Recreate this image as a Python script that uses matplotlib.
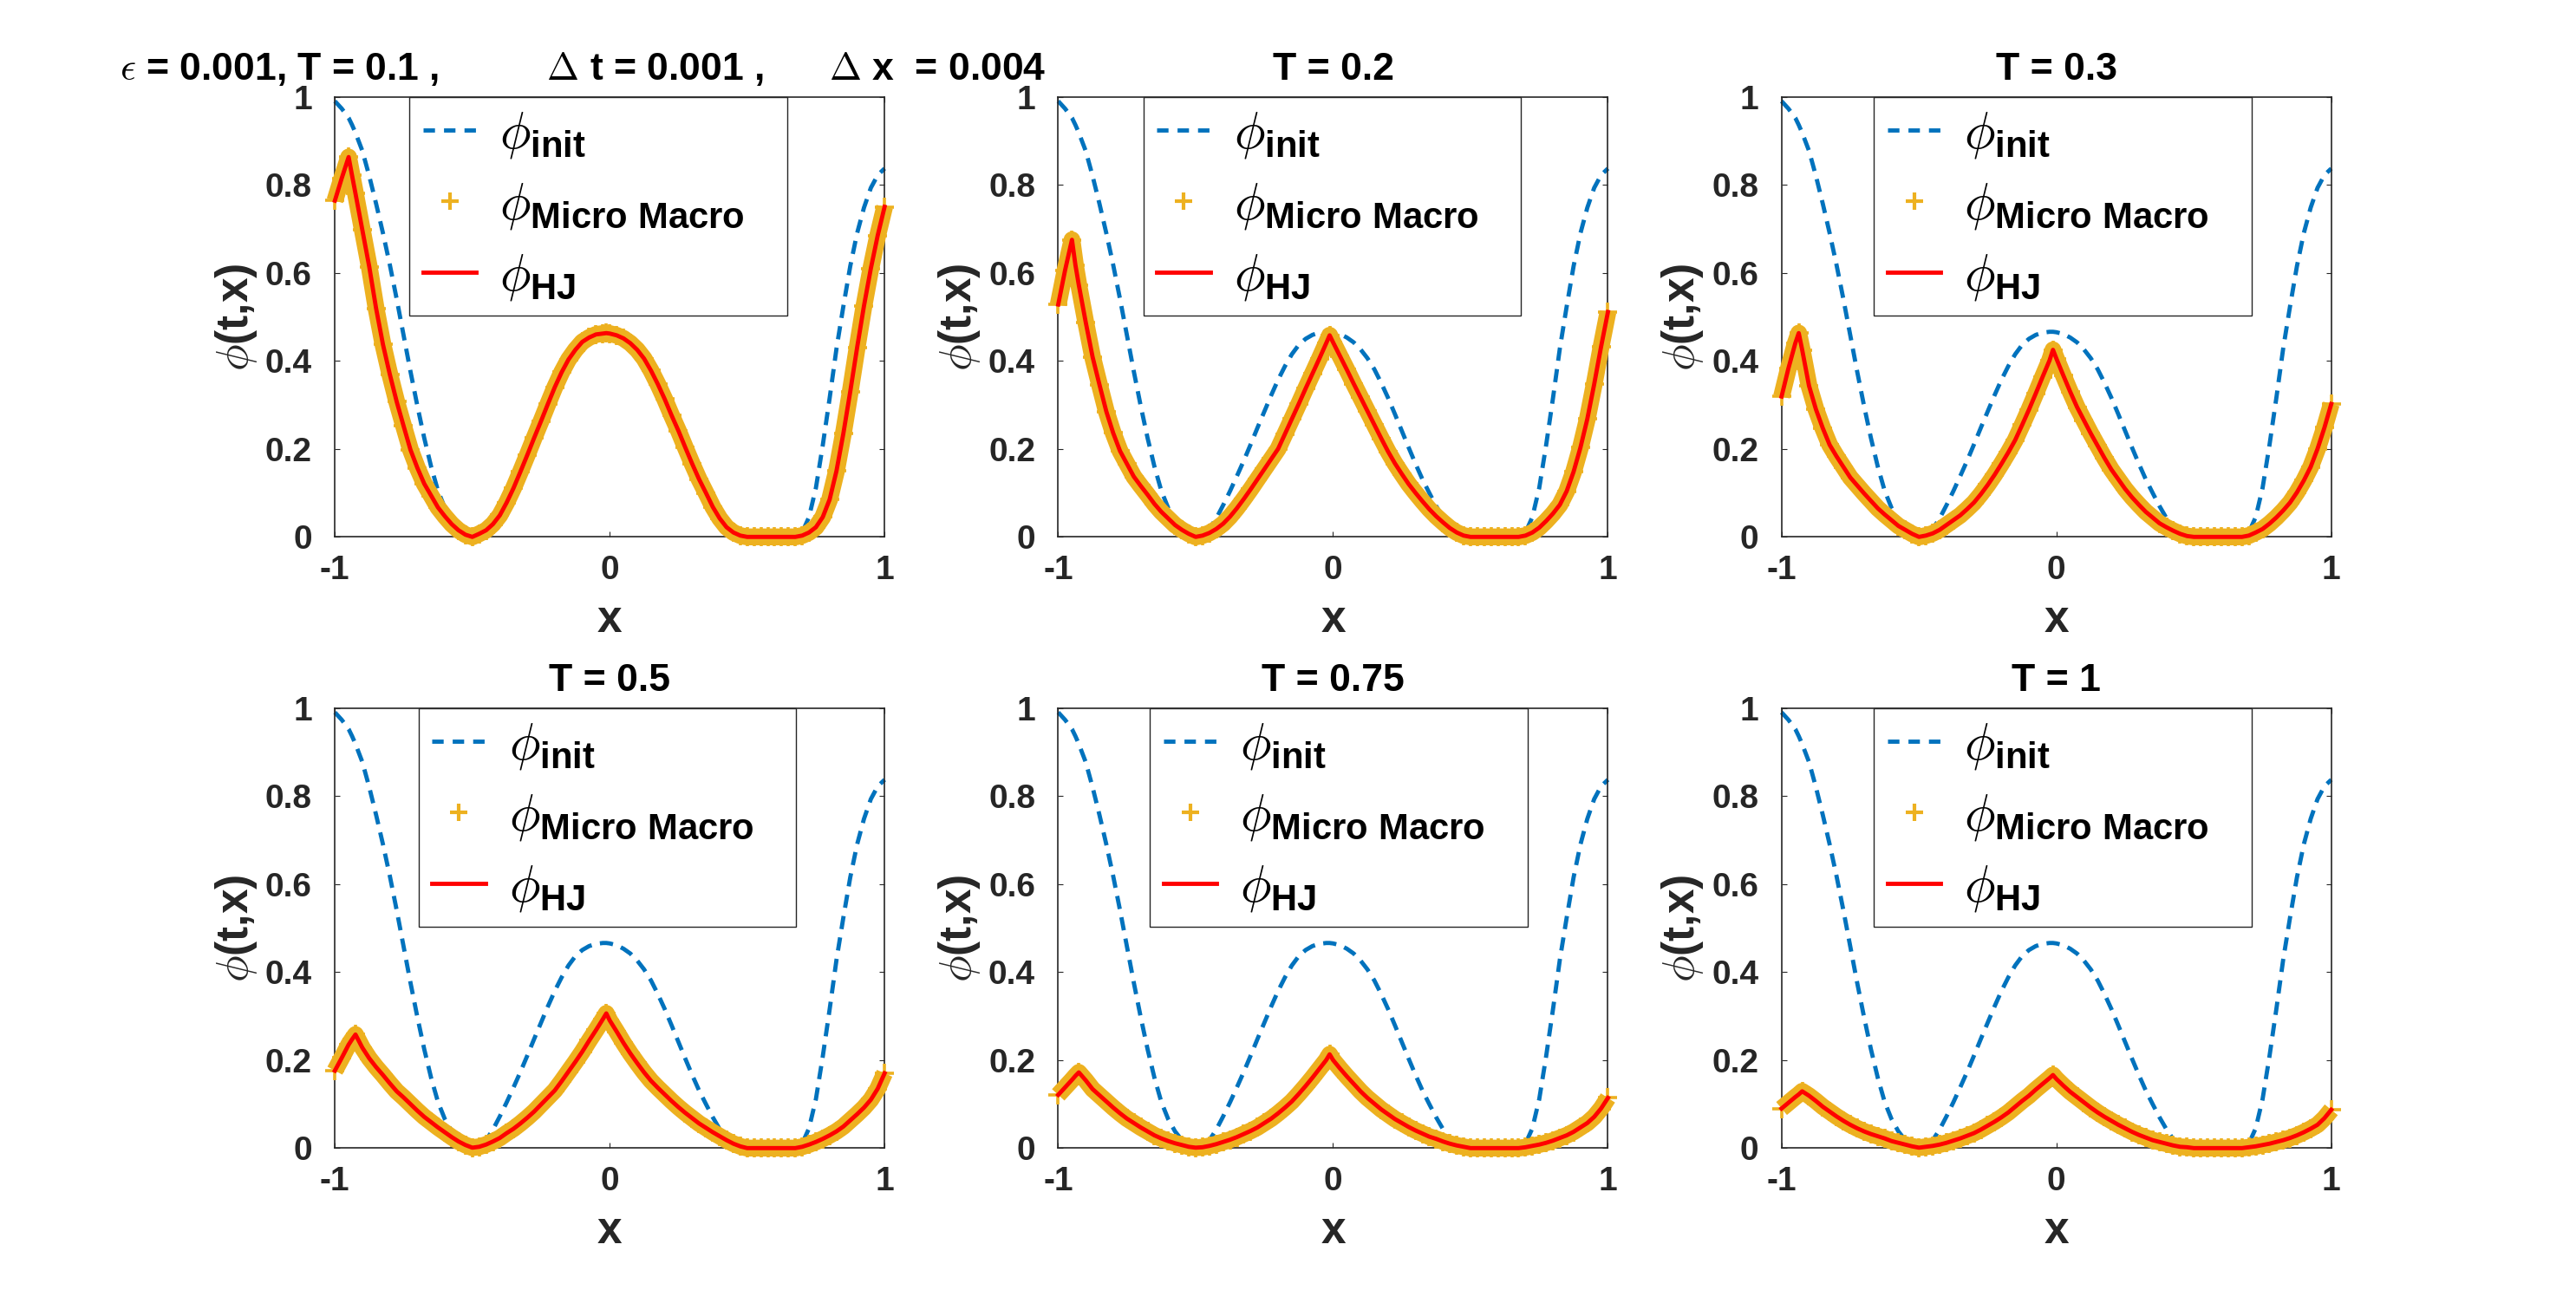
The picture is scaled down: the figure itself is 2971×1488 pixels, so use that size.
import numpy as np
import matplotlib
matplotlib.use("Agg")
import matplotlib.pyplot as plt
from matplotlib.lines import Line2D

plt.rcParams['font.family'] = ['Liberation Sans', 'DejaVu Sans']
plt.rcParams['mathtext.fontset'] = 'cm'
plt.rcParams['lines.scale_dashes'] = False

# sampling grid in x (uniform 0.025 grid plus the two kink locations)
x = sorted([round(float(v), 4) for v in np.linspace(-1, 1, 81)] + [-0.9375, -0.0125])

# values (left part -1..-0.5, middle -0.475..0.475, flat 0.5..0.675, right 0.7..1)
phi_init = ([0.99, 0.973, 0.952, 0.936, 0.918, 0.877, 0.82, 0.757, 0.69, 0.618, 0.54, 0.458, 0.376,
             0.298, 0.225, 0.16, 0.105, 0.066, 0.038, 0.018, 0.005, 0.0]
            + [0.004, 0.018, 0.042, 0.072, 0.104, 0.138, 0.173, 0.21, 0.248, 0.285, 0.322, 0.357, 0.388,
               0.415, 0.436, 0.45, 0.459, 0.464, 0.466, 0.466, 0.465, 0.461, 0.453, 0.442, 0.426, 0.406,
               0.381, 0.35, 0.316, 0.279, 0.241, 0.203, 0.166, 0.131, 0.1, 0.07, 0.043, 0.02, 0.006, 0.0]
            + [0.0] * 8
            + [0.01, 0.045, 0.111, 0.208, 0.315, 0.428, 0.524, 0.615, 0.69, 0.748, 0.793, 0.822, 0.837])

phi_T01 = ([0.764, 0.815, 0.863, 0.821, 0.78, 0.697, 0.614, 0.519, 0.437, 0.369, 0.307, 0.252, 0.198,
            0.157, 0.121, 0.094, 0.067, 0.047, 0.029, 0.015, 0.005, 0.0]
           + [0.007, 0.015, 0.029, 0.049, 0.078, 0.111, 0.148, 0.186, 0.225, 0.263, 0.302, 0.34, 0.374,
              0.403, 0.425, 0.443, 0.453, 0.46, 0.462, 0.463, 0.462, 0.458, 0.451, 0.44, 0.425, 0.405,
              0.378, 0.347, 0.313, 0.276, 0.241, 0.203, 0.166, 0.131, 0.1, 0.068, 0.042, 0.022, 0.01, 0.003]
           + [0.0] * 8
           + [0.003, 0.01, 0.022, 0.045, 0.085, 0.15, 0.235, 0.33, 0.43, 0.525, 0.61, 0.685, 0.75])

phi_T02 = ([0.528, 0.606, 0.675, 0.618, 0.572, 0.488, 0.409, 0.346, 0.285, 0.236, 0.195, 0.166, 0.137,
            0.116, 0.096, 0.075, 0.057, 0.042, 0.027, 0.016, 0.007, 0.0]
           + [0.003, 0.009, 0.018, 0.03, 0.046, 0.065, 0.086, 0.108, 0.131, 0.154, 0.177, 0.2, 0.234,
              0.268, 0.302, 0.337, 0.371, 0.405, 0.44, 0.458, 0.442, 0.411, 0.38, 0.348, 0.317, 0.286,
              0.255, 0.224, 0.194, 0.167, 0.143, 0.12, 0.1, 0.081, 0.063, 0.047, 0.033, 0.02, 0.01, 0.003]
           + [0.0] * 8
           + [0.003, 0.01, 0.021, 0.036, 0.053, 0.073, 0.104, 0.148, 0.203, 0.268, 0.347, 0.432, 0.511])

phi_T03 = ([0.319, 0.383, 0.44, 0.463, 0.425, 0.343, 0.29, 0.247, 0.209, 0.183, 0.159, 0.135, 0.117,
            0.099, 0.082, 0.065, 0.051, 0.038, 0.025, 0.016, 0.007, 0.0]
           + [0.003, 0.008, 0.016, 0.027, 0.038, 0.049, 0.063, 0.078, 0.097, 0.118, 0.141, 0.166, 0.192,
              0.22, 0.254, 0.289, 0.326, 0.364, 0.401, 0.425, 0.405, 0.367, 0.33, 0.295, 0.265, 0.235,
              0.207, 0.179, 0.153, 0.131, 0.109, 0.09, 0.073, 0.057, 0.044, 0.031, 0.022, 0.014, 0.007, 0.002]
           + [0.0] * 8
           + [0.003, 0.01, 0.018, 0.03, 0.044, 0.06, 0.078, 0.101, 0.128, 0.159, 0.2, 0.248, 0.302])

phi_T05 = ([0.176, 0.205, 0.235, 0.247, 0.258, 0.228, 0.204, 0.184, 0.166, 0.147, 0.129, 0.115, 0.1,
            0.085, 0.071, 0.059, 0.047, 0.036, 0.025, 0.015, 0.007, 0.001]
           + [0.003, 0.008, 0.015, 0.023, 0.034, 0.044, 0.056, 0.069, 0.083, 0.099, 0.115, 0.131, 0.152,
              0.174, 0.196, 0.219, 0.244, 0.268, 0.293, 0.306, 0.29, 0.265, 0.239, 0.215, 0.193, 0.172,
              0.153, 0.137, 0.122, 0.107, 0.093, 0.08, 0.068, 0.056, 0.046, 0.036, 0.027, 0.018, 0.01, 0.004]
           + [0.0] * 8
           + [0.003, 0.008, 0.014, 0.021, 0.029, 0.038, 0.049, 0.063, 0.077, 0.092, 0.11, 0.135, 0.17])

phi_T075 = ([0.121, 0.138, 0.155, 0.164, 0.172, 0.154, 0.134, 0.12, 0.106, 0.092, 0.079, 0.067, 0.057,
             0.047, 0.038, 0.029, 0.022, 0.016, 0.011, 0.007, 0.003, 0.001]
            + [0.002, 0.005, 0.009, 0.014, 0.019, 0.025, 0.032, 0.039, 0.047, 0.057, 0.067, 0.079, 0.092,
               0.106, 0.123, 0.141, 0.16, 0.18, 0.2, 0.213, 0.2, 0.181, 0.163, 0.146, 0.129, 0.114,
               0.101, 0.088, 0.077, 0.066, 0.057, 0.048, 0.04, 0.033, 0.026, 0.021, 0.015, 0.01, 0.006, 0.003]
            + [0.0] * 8
            + [0.002, 0.005, 0.008, 0.012, 0.017, 0.023, 0.029, 0.037, 0.047, 0.057, 0.071, 0.09, 0.114])

phi_T1 = ([0.09, 0.103, 0.116, 0.122, 0.129, 0.119, 0.107, 0.094, 0.083, 0.072, 0.062, 0.053, 0.045,
           0.038, 0.032, 0.027, 0.022, 0.016, 0.012, 0.008, 0.004, 0.001]
          + [0.003, 0.005, 0.008, 0.012, 0.017, 0.022, 0.028, 0.034, 0.042, 0.051, 0.06, 0.07, 0.081,
             0.094, 0.107, 0.119, 0.133, 0.146, 0.159, 0.166, 0.157, 0.142, 0.128, 0.116, 0.104, 0.092,
             0.081, 0.071, 0.062, 0.053, 0.045, 0.037, 0.03, 0.024, 0.018, 0.014, 0.01, 0.006, 0.003, 0.002]
          + [0.0] * 8
          + [0.002, 0.004, 0.007, 0.01, 0.014, 0.018, 0.023, 0.029, 0.036, 0.044, 0.053, 0.068, 0.087])

phi_hj = [phi_T01, phi_T02, phi_T03, phi_T05, phi_T075, phi_T1]
phi_micro_macro = [phi_T01, phi_T02, phi_T03, phi_T05, phi_T075, phi_T1]

titles = [r'$\epsilon$ = 0.001, T = 0.1 ,          $\Delta$ t = 0.001 ,      $\Delta$ x  = 0.004',
          'T = 0.2', 'T = 0.3', 'T = 0.5', 'T = 0.75', 'T = 1']

for arr in [phi_init] + phi_hj:
    assert len(arr) == len(x), len(arr)

xticks = [-1, 0, 1]
xticklabels = ['-1', '0', '1']
yticks = [0, 0.2, 0.4, 0.6, 0.8, 1]
yticklabels = ['0', '0.2', '0.4', '0.6', '0.8', '1']
legend_labels = [r'$\phi_{\mathregular{init}}$', r'$\phi_{\mathregular{Micro\ Macro}}$',
                 r'$\phi_{\mathregular{HJ}}$']

C_INIT = '#0072BD'
C_MM = '#EDB120'
C_HJ = '#FF0000'
AXC = '#262626'
DASH = (11, 7)
LW = 3.5

fig = plt.figure(figsize=(29.71, 14.88), dpi=100)
lefts = [0.13, 0.4108, 0.6916]
bottoms = [0.5838, 0.11]
W, H = 0.2134, 0.3412
legend_x0 = [0.136, 0.155, 0.168, 0.152, 0.167, 0.168]

for i in range(6):
    r, c = divmod(i, 3)
    ax = fig.add_axes([lefts[c], bottoms[r], W, H])
    ax.plot(x, phi_init, color=C_INIT, lw=LW, dashes=DASH, clip_on=False, zorder=2)
    ax.plot(x, phi_micro_macro[i], color=C_MM, lw=14, solid_joinstyle='round',
            solid_capstyle='butt', clip_on=False, zorder=3)
    ax.plot(x, phi_micro_macro[i], ls='none', marker='+', ms=16, mew=2.6, color=C_MM,
            clip_on=False, zorder=3)
    ax.plot(x, phi_hj[i], color=C_HJ, lw=LW, clip_on=False, zorder=4)
    ax.set_xlim(-1, 1)
    ax.set_ylim(0, 1)
    ax.set_xticks(xticks)
    ax.set_xticklabels(xticklabels)
    ax.set_yticks(yticks)
    ax.set_yticklabels(yticklabels)
    ax.tick_params(direction='in', length=4, width=0.8, top=True, right=True,
                   colors=AXC, labelsize=28)
    ax.tick_params(axis='y', pad=19)
    ax.tick_params(axis='x', pad=15)
    for lab in ax.get_xticklabels() + ax.get_yticklabels():
        lab.set_fontweight('bold')
    for sp in ax.spines.values():
        sp.set_color(AXC)
        sp.set_linewidth(1.2)
    ax.set_xlabel('x', fontsize=37, fontweight='bold', color=AXC, labelpad=11)
    ax.set_ylabel(r'$\phi$(t,x)', fontsize=37, fontweight='bold', color=AXC, labelpad=5)
    if i == 0:
        ax.set_title(titles[i], fontsize=32, fontweight='bold', pad=14, x=0.451)
    else:
        ax.set_title(titles[i], fontsize=32, fontweight='bold', pad=14)
    handles = [Line2D([], [], color=C_INIT, lw=LW, dashes=(9.5, 7.5)),
               Line2D([], [], ls='none', marker='+', ms=15, mew=3, color=C_MM),
               Line2D([], [], color=C_HJ, lw=LW)]
    leg = ax.legend(handles, legend_labels, loc='upper left',
                    bbox_to_anchor=(legend_x0[i], 0.0, 0.687, 1.0), mode='expand',
                    borderaxespad=0, prop=dict(family='Liberation Sans', weight='bold', size=43),
                    frameon=True, fancybox=False, edgecolor=AXC, framealpha=1,
                    handlelength=1.03, handletextpad=0.45, labelspacing=0.4, borderpad=0.26)
    leg.get_frame().set_linewidth(1.0)
    leg.set_zorder(10)

fig.savefig('out.png', dpi=100, facecolor='white')
